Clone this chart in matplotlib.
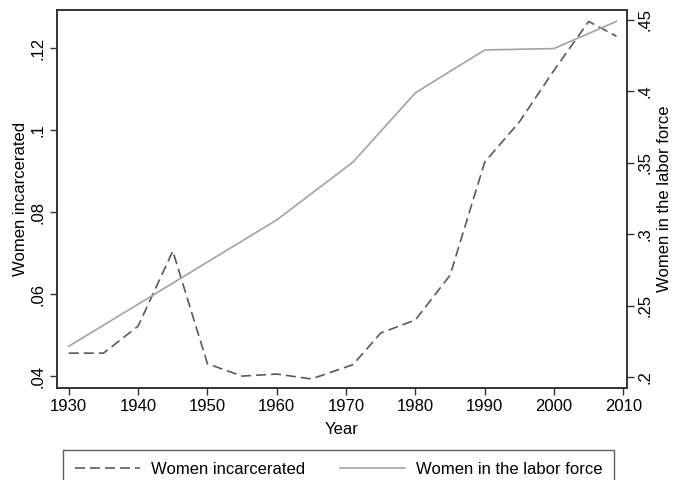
import matplotlib
matplotlib.use("Agg")
import matplotlib.pyplot as plt

plt.rcParams['font.family'] = ['Liberation Sans', 'DejaVu Sans']

# women incarcerated (left axis)
inc_years = [1930, 1935, 1940, 1945, 1950, 1955, 1960, 1965, 1971, 1975, 1980, 1985, 1990, 1995, 2000, 2005, 2009]
inc_vals = [0.0456, 0.0456, 0.0522, 0.0705, 0.0430, 0.0400, 0.0405, 0.0393, 0.0428, 0.0505, 0.0537, 0.0646, 0.0922, 0.1020, 0.1146, 0.1265, 0.1229]

# women in the labor force (right axis)
lab_years = [1930, 1940, 1950, 1960, 1971, 1980, 1990, 2000, 2009]
lab_vals = [0.2215, 0.2510, 0.2805, 0.3100, 0.3505, 0.3990, 0.4290, 0.4300, 0.4490]

x_ticks = [1930, 1940, 1950, 1960, 1970, 1980, 1990, 2000, 2010]
left_ticks = [0.04, 0.06, 0.08, 0.10, 0.12]
left_labels = ['.04', '.06', '.08', '.1', '.12']
right_ticks = [0.20, 0.25, 0.30, 0.35, 0.40, 0.45]
right_labels = ['.2', '.25', '.3', '.35', '.4', '.45']

fig = plt.figure(figsize=(6.74, 4.8), dpi=100)
ax = fig.add_axes([0.0846, 0.1917, 0.8454, 0.7875])
ax2 = ax.twinx()

l1, = ax.plot(inc_years, inc_vals, color='#5a5a5a', lw=1.2, dashes=(6, 3),
              label='Women incarcerated')
l2, = ax2.plot(lab_years, lab_vals, color='#a3a3a3', lw=1.2,
               label='Women in the labor force')

ax.set_xlim(1928.3, 2010.5)
ax.set_ylim(0.0371, 0.1293)
ax2.set_ylim(0.1923, 0.4570)

ax.set_xticks(x_ticks)
ax.set_yticks(left_ticks)
ax.set_yticklabels(left_labels, rotation=90, va='center')
ax2.set_yticks(right_ticks)
ax2.set_yticklabels(right_labels, rotation=90, va='center')

for a in (ax, ax2):
    a.tick_params(labelsize=12, length=5, width=1, color='#333333', pad=3)
    for s in a.spines.values():
        s.set_color('#333333')
        s.set_linewidth(1.2)

ax.set_xlabel('Year', fontsize=12, labelpad=6)
ax.set_ylabel('Women incarcerated', fontsize=12, labelpad=2)
ax2.set_ylabel('Women in the labor force', fontsize=12, rotation=90, labelpad=3)

leg = fig.legend(handles=[l1, l2], loc='upper left', ncol=2,
                 bbox_to_anchor=(0.0935, 0.0625), borderaxespad=0,
                 fontsize=12, handlelength=3.9, handletextpad=0.65,
                 columnspacing=2.15, fancybox=False, borderpad=0.7)
leg.get_frame().set_edgecolor('#333333')
leg.get_frame().set_linewidth(1.0)

fig.savefig('out.png', dpi=100)
